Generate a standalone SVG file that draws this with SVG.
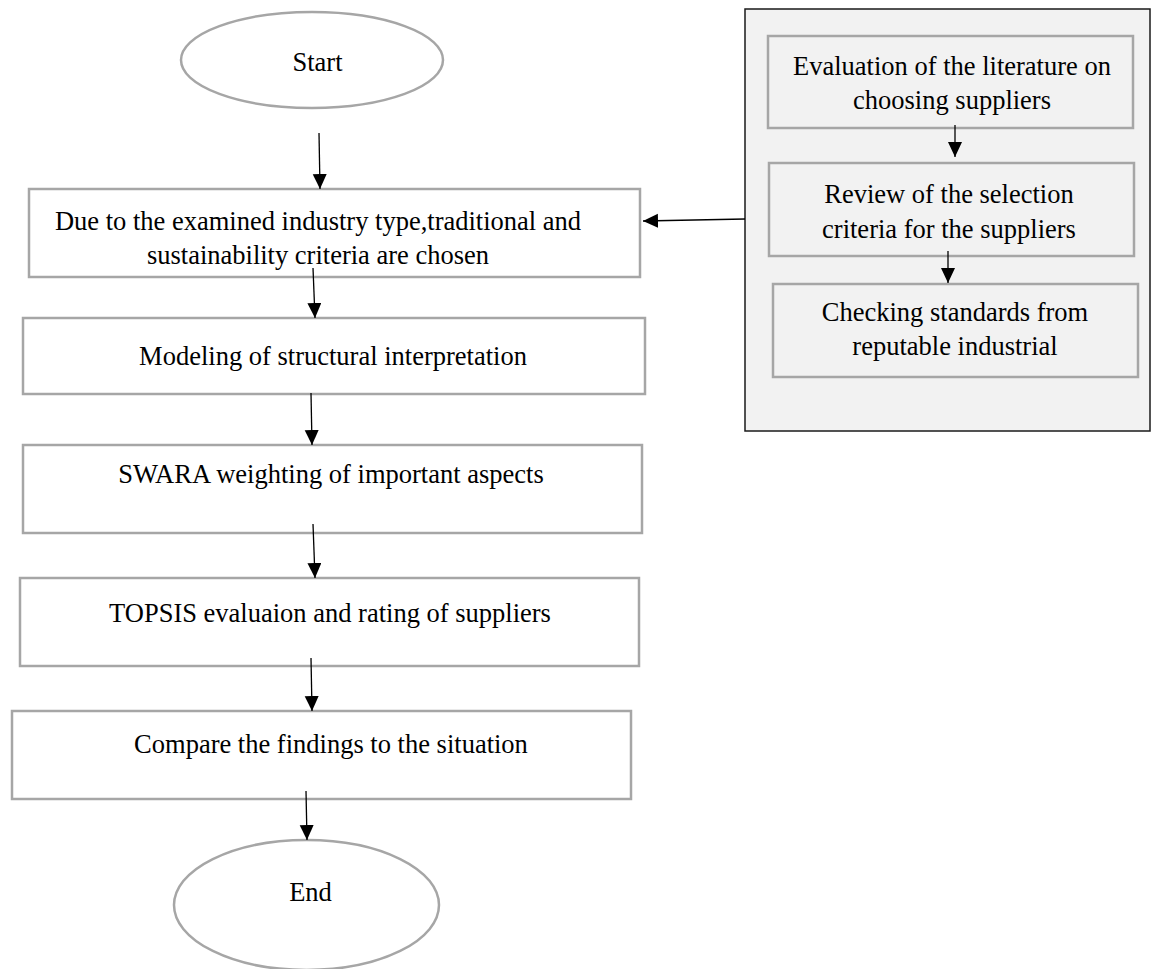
<svg xmlns="http://www.w3.org/2000/svg" width="1153" height="969" viewBox="0 0 1153 969">
<defs>
<style>
.box{fill:#ffffff;stroke:#a6a6a6;stroke-width:2.5}
.inner{fill:#f2f2f2;stroke:#a6a6a6;stroke-width:2.5}
.panel{fill:#f2f2f2;stroke:#1a1a1a;stroke-width:1.5}
.oval{fill:#ffffff;stroke:#a6a6a6;stroke-width:2.5}
.t{font-family:"Liberation Serif","Times New Roman",serif;font-size:26.5px;fill:#000;text-anchor:middle}
.c{stroke:#000;stroke-width:1.3;fill:none;marker-end:url(#ah)}
</style>
<marker id="ah" markerUnits="userSpaceOnUse" markerWidth="16" markerHeight="15" refX="15" refY="7" orient="auto" viewBox="0 0 16 15">
<path d="M0,0 L15,7 L0,14 Z" fill="#000"/>
</marker>
</defs>
<rect width="1153" height="969" fill="#ffffff"/>

<g id="panel">
<rect class="panel" x="745" y="9" width="405" height="422"/>
</g>

<g id="start">
<ellipse class="oval" cx="312" cy="60" rx="131" ry="48"/>
<text class="t" x="317.5" y="71">Start</text>
</g>

<g id="box1">
<rect class="box" x="29" y="189" width="611" height="88"/>
<text class="t" x="318" y="230">Due to the examined industry type,traditional and</text>
<text class="t" x="318" y="264">sustainability criteria are chosen</text>
</g>

<g id="box2">
<rect class="box" x="23" y="318" width="622" height="76"/>
<text class="t" x="333" y="365">Modeling of structural interpretation</text>
</g>

<g id="box3">
<rect class="box" x="23" y="445" width="619" height="88"/>
<text class="t" x="331" y="483">SWARA weighting of important aspects</text>
</g>

<g id="box4">
<rect class="box" x="20" y="578" width="619" height="88"/>
<text class="t" x="330" y="622">TOPSIS evaluaion and rating of suppliers</text>
</g>

<g id="box5">
<rect class="box" x="12" y="711" width="619" height="88"/>
<text class="t" x="331" y="753">Compare the findings to the situation</text>
</g>

<g id="end">
<ellipse class="oval" cx="306.5" cy="905" rx="132.5" ry="65"/>
<text class="t" x="310.5" y="901">End</text>
</g>

<g id="r1">
<rect class="inner" x="768" y="36" width="365" height="92"/>
<text class="t" x="952" y="75">Evaluation of the literature on</text>
<text class="t" x="952" y="109">choosing suppliers</text>
</g>

<g id="r2">
<rect class="inner" x="769" y="163" width="365" height="93"/>
<text class="t" x="949" y="203">Review of the selection</text>
<text class="t" x="949" y="238">criteria for the suppliers</text>
</g>

<g id="r3">
<rect class="inner" x="773" y="284" width="365" height="93"/>
<text class="t" x="955" y="321">Checking standards from</text>
<text class="t" x="955" y="355">reputable industrial</text>
</g>

<g id="connectors">
<line class="c" x1="319" y1="133" x2="320" y2="189"/>
<line class="c" x1="313" y1="268" x2="315" y2="318"/>
<line class="c" x1="311" y1="393" x2="312" y2="445"/>
<line class="c" x1="313" y1="524" x2="315" y2="578"/>
<line class="c" x1="311" y1="658" x2="312" y2="711"/>
<line class="c" x1="306" y1="791" x2="307" y2="840"/>
<line class="c" x1="745" y1="219" x2="643" y2="221"/>
<line class="c" x1="955" y1="125" x2="955" y2="157"/>
<line class="c" x1="948" y1="251" x2="948" y2="283"/>
</g>
</svg>
